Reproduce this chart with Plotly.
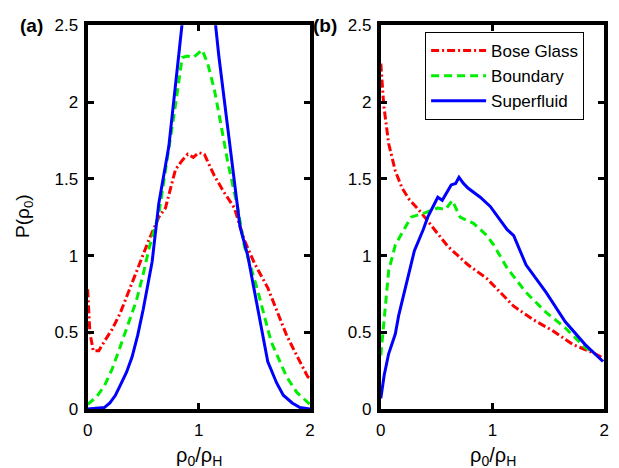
import plotly.graph_objects as go

# Panel (a): distributions of the local condensate density
a_bg_x = [0, 0.02, 0.05, 0.1, 0.15, 0.22, 0.29, 0.36, 0.44, 0.5, 0.55, 0.64, 0.7, 0.79, 0.85, 0.9, 0.95,
          1.0, 1.05, 1.1, 1.14, 1.22, 1.32, 1.41, 1.5, 1.62, 1.7, 1.79, 1.88, 1.98, 2.0]
a_bg_y = [0.78, 0.5, 0.38, 0.38, 0.44, 0.52, 0.62, 0.75, 0.9, 1.0, 1.1, 1.25, 1.31, 1.56, 1.62, 1.66, 1.64,
          1.67, 1.66, 1.58, 1.52, 1.42, 1.31, 1.1, 0.95, 0.79, 0.65, 0.48, 0.35, 0.21, 0.2]

a_bd_x = [0, 0.08, 0.15, 0.22, 0.29, 0.36, 0.44, 0.5, 0.55, 0.64, 0.73, 0.79, 0.85, 0.9, 0.95, 1.03, 1.08,
          1.14, 1.2, 1.26, 1.35, 1.41, 1.47, 1.53, 1.65, 1.72, 1.79, 1.88, 1.98, 2.0]
a_bd_y = [0.03, 0.08, 0.15, 0.26, 0.4, 0.55, 0.71, 0.88, 1.04, 1.27, 1.69, 1.98, 2.29, 2.3, 2.29, 2.34, 2.25,
          2.08, 1.85, 1.61, 1.31, 1.06, 0.92, 0.77, 0.44, 0.32, 0.21, 0.11, 0.04, 0.03]

a_sf_x = [0, 0.1, 0.15, 0.2, 0.25, 0.29, 0.35, 0.4, 0.45, 0.5, 0.58, 0.64, 0.73, 0.82, 0.9, 1.0, 1.1, 1.18,
          1.24, 1.29, 1.37, 1.44, 1.53, 1.62, 1.7, 1.76, 1.84, 1.91, 2.0]
a_sf_y = [0, 0.005, 0.01, 0.04, 0.09, 0.15, 0.24, 0.34, 0.48, 0.65, 0.96, 1.34, 1.71, 2.31, 2.85, 3.05, 2.85,
          2.3, 1.95, 1.63, 1.19, 1.0, 0.65, 0.31, 0.17, 0.09, 0.04, 0.01, 0.0]

# Panel (b)
b_bg_x = [0, 0.026, 0.07, 0.13, 0.19, 0.25, 0.36, 0.48, 0.6, 0.78, 0.95, 1.07, 1.19, 1.37, 1.54, 1.72, 1.89, 2.0]
b_bg_y = [2.25, 1.98, 1.73, 1.55, 1.44, 1.37, 1.28, 1.17, 1.06, 0.94, 0.85, 0.76, 0.67, 0.58, 0.51, 0.42, 0.37, 0.33]

b_bd_x = [0, 0.03, 0.07, 0.13, 0.19, 0.27, 0.4, 0.51, 0.58, 0.64, 0.71, 0.83, 0.95, 1.01, 1.13, 1.3, 1.48,
          1.65, 1.83, 1.9]
b_bd_y = [0.35, 0.61, 0.9, 1.07, 1.15, 1.25, 1.28, 1.31, 1.3, 1.36, 1.25, 1.21, 1.13, 1.07, 0.92, 0.76, 0.63,
          0.53, 0.4, 0.37]

b_sf_x = [0, 0.03, 0.07, 0.13, 0.16, 0.25, 0.3, 0.38, 0.42, 0.51, 0.55, 0.63, 0.67, 0.7, 0.74, 0.78, 0.89,
          0.98, 1.05, 1.13, 1.19, 1.3, 1.48, 1.65, 1.83, 1.99]
b_sf_y = [0.07, 0.22, 0.36, 0.49, 0.61, 0.88, 1.03, 1.17, 1.25, 1.38, 1.36, 1.46, 1.47, 1.51, 1.47, 1.44, 1.38,
          1.32, 1.25, 1.17, 1.13, 0.94, 0.76, 0.57, 0.42, 0.31]

series_names = ["Bose Glass", "Boundary", "Superfluid"]
x_ticks = [0, 1, 2]
y_ticks = [0, 0.5, 1, 1.5, 2, 2.5]

styles = [
    dict(color="#ff0000", width=3, dash="8px,3px,2px,3px"),
    dict(color="#00ee00", width=3, dash="8px,5px"),
    dict(color="#0000ff", width=3),
]

FONT = "Liberation Sans, Arial, sans-serif"

fig = go.Figure()
panels = [
    ("x", "y", [(a_bg_x, a_bg_y), (a_bd_x, a_bd_y), (a_sf_x, a_sf_y)], False),
    ("x2", "y2", [(b_bg_x, b_bg_y), (b_bd_x, b_bd_y), (b_sf_x, b_sf_y)], True),
]
for xa, ya, data, show in panels:
    for name, (xs, ys), st in zip(series_names, data, styles):
        fig.add_trace(go.Scatter(x=xs, y=ys, mode="lines", name=name, line=st,
                                 xaxis=xa, yaxis=ya, showlegend=show))

axis_common = dict(
    showline=True, linecolor="black", linewidth=4, mirror="ticks",
    ticks="inside", ticklen=6, tickwidth=2.5, tickcolor="black",
    showgrid=False, zeroline=False,
    tickfont=dict(family=FONT, size=17, color="black"),
)

ydom = [1 - 417 / 468, 1 - 17 / 468]
fig.update_layout(
    width=619, height=468,
    margin=dict(l=0, r=0, t=0, b=0),
    paper_bgcolor="white", plot_bgcolor="white",
    xaxis=dict(domain=[84 / 619, 310 / 619], range=[0, 2], tickvals=x_ticks, anchor="y",
               ticklabelstandoff=3, **axis_common),
    yaxis=dict(domain=ydom, range=[0, 2.5], tickvals=y_ticks, anchor="x",
               ticklabelstandoff=2, **axis_common),
    xaxis2=dict(domain=[382 / 619, 609 / 619], range=[0, 2], tickvals=x_ticks, anchor="y2",
                ticklabelstandoff=3, **axis_common),
    yaxis2=dict(domain=ydom, range=[0, 2.5], tickvals=y_ticks, anchor="x2",
                ticklabelstandoff=2, **axis_common),
    legend=dict(
        x=427 / 619, y=1 - 24 / 468, xanchor="left", yanchor="top",
        bordercolor="black", borderwidth=1, bgcolor="white",
        font=dict(family=FONT, size=17, color="black"),
        tracegroupgap=0, itemwidth=55,
    ),
    showlegend=True,
)

annotations = [
    dict(text="<b>(a)</b>", x=13 / 619, y=1 - 17 / 468, xanchor="left", yanchor="middle", size=19),
    dict(text="<b>(b)</b>", x=311 / 619, y=1 - 17 / 468, xanchor="left", yanchor="middle", size=19),
    dict(text="P(ρ<sub>0</sub>)", x=20 / 619, y=1 - 216 / 468, xanchor="center", yanchor="middle",
         textangle=-90, size=19),
    dict(text="ρ<sub>0</sub>/ρ<sub>H</sub>", x=197 / 619, y=-0.03, xanchor="center",
         yanchor="bottom", size=20),
    dict(text="ρ<sub>0</sub>/ρ<sub>H</sub>", x=496 / 619, y=-0.03, xanchor="center",
         yanchor="bottom", size=20),
]
for ann in annotations:
    size = ann.pop("size")
    fig.add_annotation(xref="paper", yref="paper", showarrow=False,
                       font=dict(family=FONT, size=size, color="black"), **ann)

fig.write_html("out.html")
